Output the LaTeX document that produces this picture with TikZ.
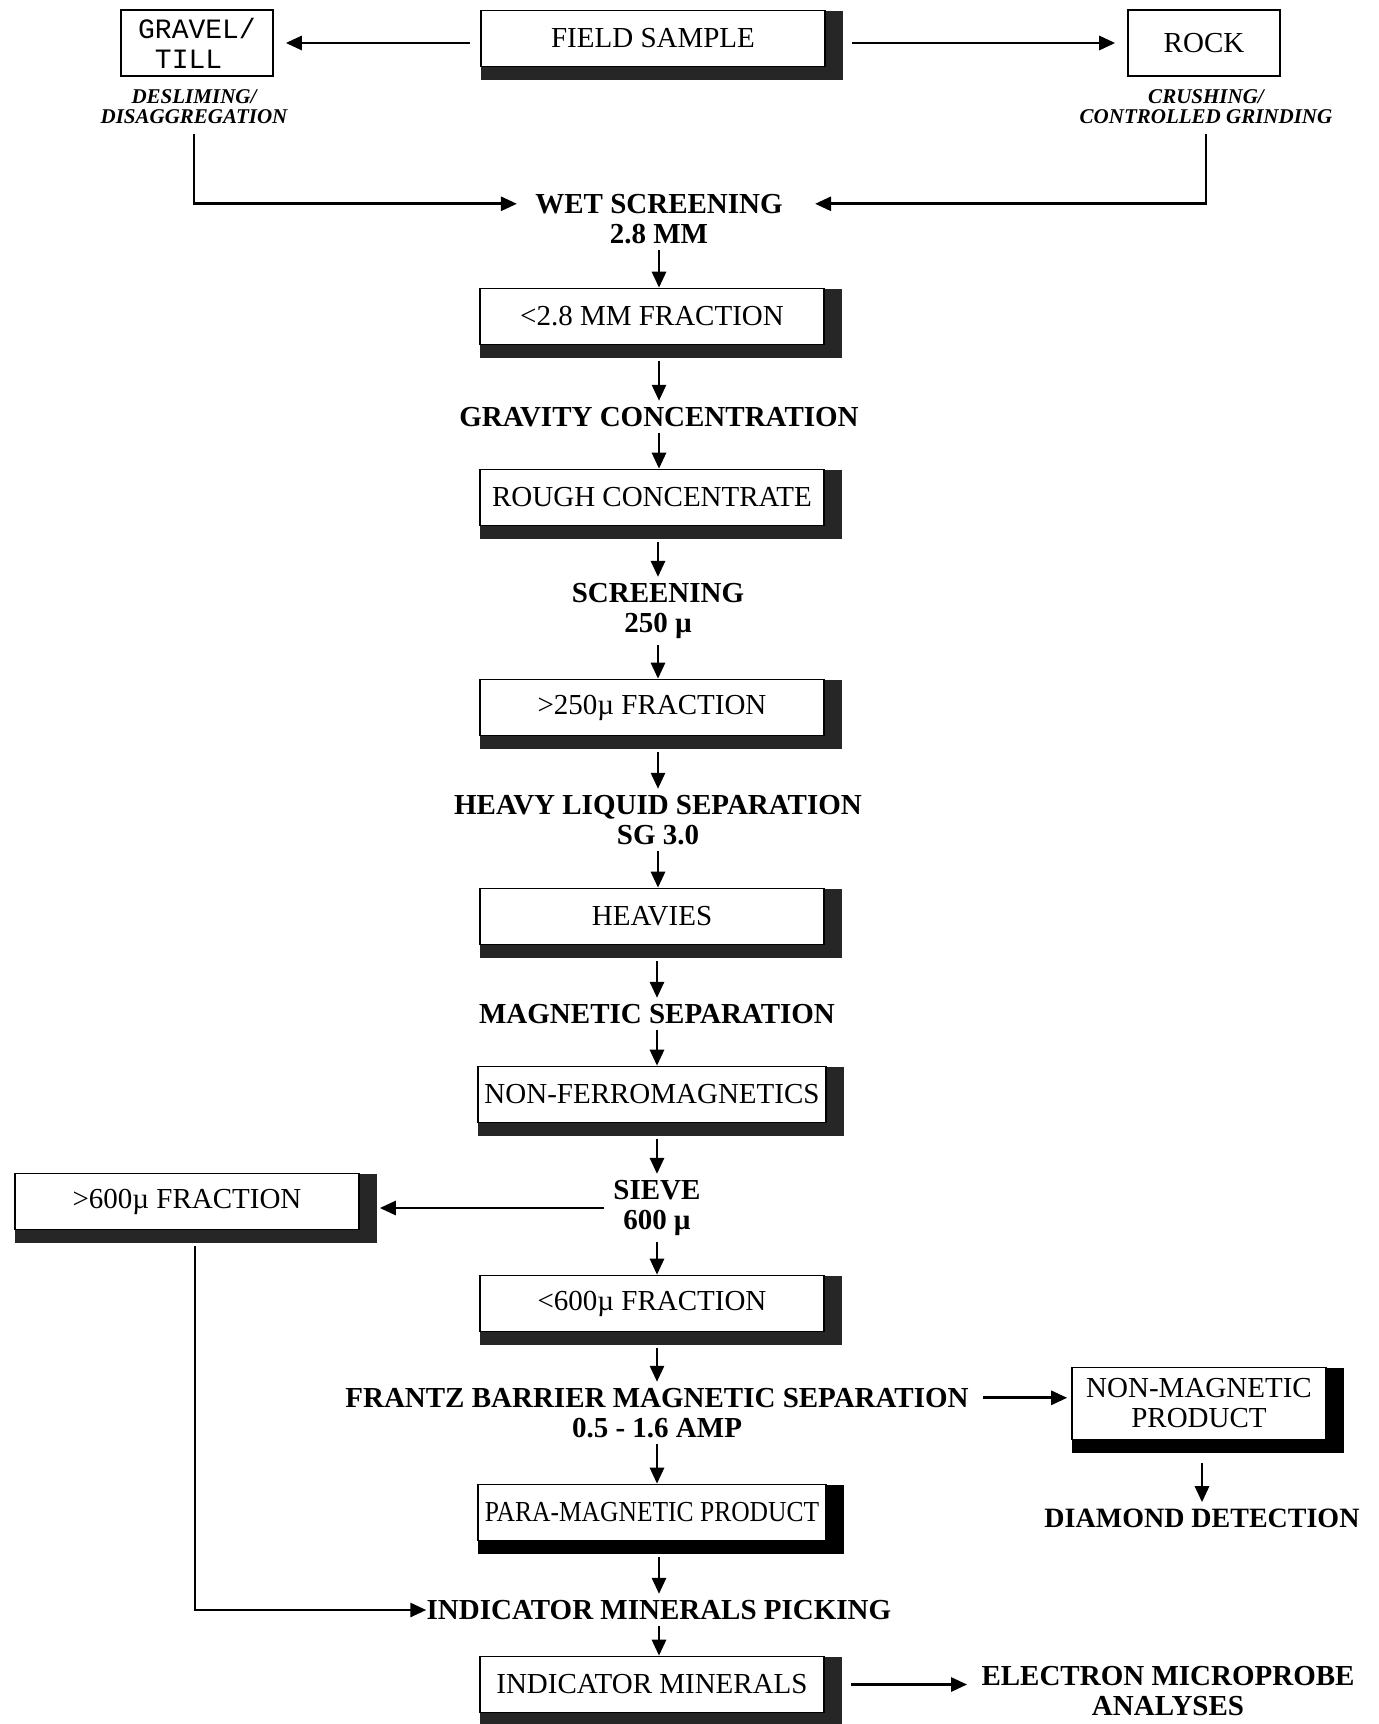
\documentclass[tikz,border=0pt]{standalone}
\usepackage{fontspec}
\setmainfont{Liberation Serif}
\newfontfamily\tillfont{Liberation Mono}
\newfontfamily\narrowfont{Liberation Serif}[FakeStretch=0.88]
\usetikzlibrary{arrows.meta,shadows}
\newcommand\stagefont{\bfseries\fontsize{14.5}{15}\selectfont}
\newcommand\prodfont{\fontsize{14.5}{15}\selectfont}
\newcommand\notefont{\bfseries\itshape\fontsize{10.5}{10}\selectfont}
\begin{document}
\begin{tikzpicture}[x=0.5pt,y=-0.5pt,
		stage/.style={font=\stagefont,align=center,inner sep=3pt},
		note/.style={font=\notefont,align=center,inner sep=2pt},
		prodbox/.style={draw,fill=white,line width=0.8pt,minimum width=172pt,minimum height=28pt,font=\prodfont,align=center,
			general shadow={fill=#1,shadow xshift=9pt},
			general shadow={fill=#1,shadow yshift=-6.5pt},
			general shadow={fill=#1,shadow xshift=9pt,shadow yshift=-6.5pt}},
		prodbox/.default=black!85,
		srcbox/.style={draw,line width=0.8pt,minimum width=76pt,minimum height=33pt,align=center},
		link/.style={-{Triangle[length=8pt,width=7pt]},line width=1.4pt}]
	\useasboundingbox (0,0) rectangle (1379,1724);
	\node[prodbox] (field) at (653,38.5) {FIELD SAMPLE};
	\node[srcbox,font=\tillfont\fontsize{14}{15}\selectfont] (gravel) at (197,43) {GRAVEL/\\TILL\phantom{/}};
	\node[srcbox,font=\prodfont] (rock) at (1204,43) {ROCK};
	\node[note] (deslim) at (194,107) {DESLIMING/\\DISAGGREGATION};
	\node[note] (crush) at (1206,107) {CRUSHING/\\CONTROLLED GRINDING};
	\node[stage] (wet) at (659,219) {WET SCREENING\\2.8 MM};
	\node[prodbox] (frac28) at (652,316.5) {<2.8 MM FRACTION};
	\node[stage] (gravity) at (659,417) {GRAVITY CONCENTRATION};
	\node[prodbox] (rough) at (652,497.5) {ROUGH CONCENTRATE};
	\node[stage] (screen) at (658,611) {SCREENING\\250 µ};
	\node[prodbox] (frac250) at (652,707.5) {>250µ FRACTION};
	\node[stage] (heavyliq) at (658,820) {HEAVY LIQUID SEPARATION\\SG 3.0};
	\node[prodbox] (heavies) at (652,916.5) {HEAVIES};
	\node[stage] (magsep) at (657,1014) {MAGNETIC SEPARATION};
	\node[prodbox] (nonferro) at (652,1094.5) {NON-FERROMAGNETICS};
	\node[stage] (sieve) at (657,1208) {SIEVE\\600 µ};
	\node[prodbox] (coarse) at (187,1201.5) {>600µ FRACTION};
	\node[prodbox] (fine) at (652,1303.5) {<600µ FRACTION};
	\node[stage] (frantz) at (657,1413) {FRANTZ BARRIER MAGNETIC SEPARATION\\0.5 - 1.6 AMP};
	\node[prodbox=black,minimum width=127pt,minimum height=36pt] (nonmag) at (1199,1403.5) {NON-MAGNETIC\\PRODUCT};
	\node[stage,font=\bfseries\fontsize{14}{15}\selectfont] (diamond) at (1202,1518) {DIAMOND DETECTION};
	\node[prodbox=black,font=\narrowfont\fontsize{14.5}{15}\selectfont] (paramag) at (652,1512.5) {PARA-MAGNETIC PRODUCT};
	\node[stage] (picking) at (659,1610) {INDICATOR MINERALS PICKING};
	\node[prodbox] (indmin) at (652,1684.5) {INDICATOR MINERALS};
	\node[stage] (electron) at (1168,1691) {ELECTRON MICROPROBE\\ANALYSES};
	\draw[link,shorten <=5pt,shorten >=6pt] (field.west |- gravel.east) -- (gravel.east);
	\draw[link,shorten <=13pt,shorten >=6pt] (field.east |- rock.west) -- (rock.west);
	\draw[link,shorten <=3pt,shorten >=6pt] (deslim.south) |- ([yshift=-8pt]wet.north west);
	\draw[link,shorten <=3pt,shorten >=13pt] (crush.south) |- ([yshift=-8pt]wet.north east);
	\draw[link] (wet) -- (wet |- frac28.north);
	\draw[link,shorten <=8pt] (frac28.south -| gravity) -- (gravity);
	\draw[link] (gravity) -- (gravity |- rough.north);
	\draw[link,shorten <=8pt] (rough.south -| screen) -- (screen);
	\draw[link] (screen) -- (screen |- frac250.north);
	\draw[link,shorten <=8pt] (frac250.south -| heavyliq) -- (heavyliq);
	\draw[link] (heavyliq) -- (heavyliq |- heavies.north);
	\draw[link,shorten <=8pt] (heavies.south -| magsep) -- (magsep);
	\draw[link] (magsep) -- (magsep |- nonferro.north);
	\draw[link,shorten <=8pt] (nonferro.south -| sieve) -- (sieve);
	\draw[link,shorten <=1.5pt,shorten >=10pt] (sieve.west) -- (sieve.west -| coarse.east);
	\draw[link] (sieve) -- (sieve |- fine.north);
	\draw[link,shorten <=8pt] (fine.south -| frantz) -- (frantz);
	\draw[link,shorten <=4pt,shorten >=2pt] ([yshift=-8pt]frantz.north east) -- ([yshift=-8pt]frantz.north east -| nonmag.west);
	\draw[link,shorten <=11.5pt] (nonmag.south -| diamond) -- (diamond);
	\draw[link] (frantz) -- (frantz |- paramag.north);
	\draw[link,shorten <=8pt] (paramag.south -| picking) -- (picking);
	\draw[link,shorten <=8pt,shorten >=-3pt] ([xshift=4pt]coarse.south) |- (picking.west);
	\draw[link] (picking) -- (picking |- indmin.north);
	\draw[link,shorten <=13pt,shorten >=4pt] (indmin.east) -- (indmin.east -| electron.west);
\end{tikzpicture}
\end{document}
